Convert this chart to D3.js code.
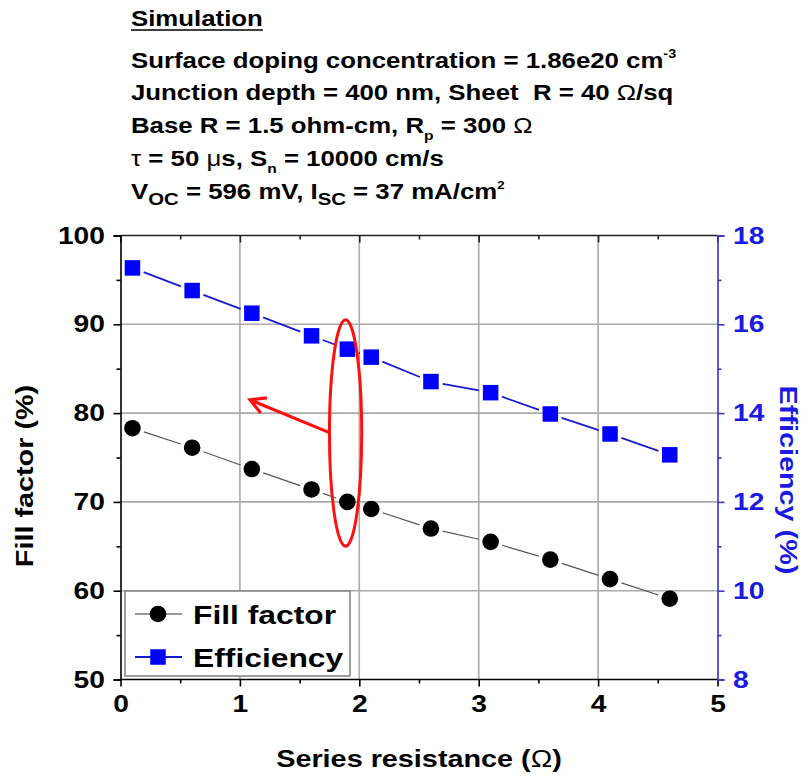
<!DOCTYPE html>
<html><head><meta charset="utf-8">
<script src="https://cdn.jsdelivr.net/npm/d3@7"></script>
<style>html,body{margin:0;padding:0;background:#fff;}</style>
</head><body>
<svg id="chart" width="807" height="776"></svg>
<script>
// ---- data ----
const resistance = [0.1, 0.6, 1.1, 1.6, 1.9, 2.1, 2.6, 3.1, 3.6, 4.1, 4.6];
const fillFactor = [78.3, 76.1, 73.7, 71.4, 70.0, 69.2, 67.0, 65.5, 63.5, 61.3, 59.1];
const efficiency = [17.27, 16.76, 16.25, 15.74, 15.44, 15.26, 14.71, 14.46, 13.98, 13.53, 13.06];
const xTicks = [0, 1, 2, 3, 4, 5];
const xMinor = [0.5, 1.5, 2.5, 3.5, 4.5];
const ffTicks = [50, 60, 70, 80, 90, 100];
const ffMinor = [55, 65, 75, 85, 95];
const effTicks = [8, 10, 12, 14, 16, 18];
const effMinor = [9, 11, 13, 15, 17];
const seriesNames = ["Fill factor", "Efficiency"];
// annotation (data units): ellipse around R=1.9 and arrow pointing to left axis
const ellipseX = [1.75, 2.02];
const ellipseY = [65.0, 90.5];
const arrowFrom = [1.75, 77.8];
const arrowTo = [1.085, 81.5];

const FONT = "'Liberation Sans', Arial, Helvetica, sans-serif";
const SX = 1.2;
const BLUE = "#0000ff";
const BLUE_TXT = "#1a1ae0";
const BLUE_AX = "#3535c8";

const svg = d3.select("#chart").style("font-family", FONT);

const x = d3.scaleLinear().domain([0, 5]).range([120.5, 717.5]);
const yL = d3.scaleLinear().domain([50, 100]).range([679.5, 235.5]);
const yR = d3.scaleLinear().domain([8, 18]).range([679.5, 235.5]);
const pLeft = x.range()[0], pRight = x.range()[1], pTop = yL.range()[1], pBottom = yL.range()[0];

// ---- title block ----
function stretched(px, py, size, anchor) {
  const g = svg.append("g").attr("transform", `translate(${px},${py}) scale(${SX},1)`);
  return g.append("text").attr("font-size", size).attr("font-weight", "bold")
    .attr("text-anchor", anchor || "start").attr("fill", "#000");
}
const TX = 131, TS = 21.5;
const t0 = stretched(TX, 26, TS).text("Simulation");
svg.append("line").attr("x1", TX).attr("x2", TX + t0.node().getComputedTextLength() * SX)
  .attr("y1", 30).attr("y2", 30).attr("stroke", "#000").attr("stroke-width", 1.6);

let t = stretched(TX, 68, TS);
t.append("tspan").text("Surface doping concentration = 1.86e20 cm");
t.append("tspan").attr("font-size", 12).attr("dy", -10).text("-3");

t = stretched(TX, 100, TS);
t.append("tspan").text("Junction depth = 400 nm, Sheet\u00a0 R = 40 ");
t.append("tspan").attr("font-weight", "normal").text("\u03A9");
t.append("tspan").text("/sq");

t = stretched(TX, 133, TS);
t.append("tspan").text("Base R = 1.5 ohm-cm, R");
t.append("tspan").attr("font-size", 13).attr("dy", 7).text("p");
t.append("tspan").attr("dy", -7).text(" = 300 ");
t.append("tspan").attr("font-weight", "normal").text("\u03A9");

t = stretched(TX, 166, TS);
t.append("tspan").attr("font-weight", "normal").text("\u03C4");
t.append("tspan").text(" = 50 ");
t.append("tspan").attr("font-weight", "normal").text("\u03BC");
t.append("tspan").text("s, S");
t.append("tspan").attr("font-size", 13).attr("dy", 7).text("n");
t.append("tspan").attr("dy", -7).text(" = 10000 cm/s");

t = stretched(TX, 199, TS);
t.append("tspan").text("V");
t.append("tspan").attr("font-size", 17).attr("dy", 6).text("OC");
t.append("tspan").attr("dy", -6).text(" = 596 mV, I");
t.append("tspan").attr("font-size", 17).attr("dy", 6).text("SC");
t.append("tspan").attr("dy", -6).text(" = 37 mA/cm");
t.append("tspan").attr("font-size", 11).attr("dy", -10).text("2");

// ---- grid ----
const grid = svg.append("g").attr("stroke", "#aaaaaa").attr("stroke-width", 1.6);
grid.selectAll("line.gx").data(xTicks.slice(1, -1)).join("line")
  .attr("x1", d => x(d)).attr("x2", d => x(d)).attr("y1", pTop).attr("y2", pBottom);
grid.selectAll("line.gy").data(ffTicks.slice(1, -1)).join("line")
  .attr("x1", pLeft).attr("x2", pRight).attr("y1", d => yL(d)).attr("y2", d => yL(d));

// ---- axes ----
function styleAxis(g, color) {
  g.selectAll(".domain").attr("stroke", color).attr("stroke-width", 1.6);
  g.selectAll(".tick line").attr("stroke", color).attr("stroke-width", 1.6);
}
// bottom
const gB = svg.append("g").attr("transform", `translate(0,${pBottom})`)
  .call(d3.axisBottom(x).tickValues(xTicks).tickSize(7).tickPadding(9).tickFormat(d3.format("d")));
gB.selectAll(".domain").remove();
styleAxis(gB, "#000");
gB.selectAll("text").attr("font-size", 23.5).attr("font-weight", "bold").attr("fill", "#000")
  .attr("font-family", FONT).attr("transform", `scale(${SX},1)`);
const gBm = svg.append("g").attr("transform", `translate(0,${pBottom})`)
  .call(d3.axisBottom(x).tickValues(xMinor).tickSize(4).tickFormat(""));
gBm.selectAll(".domain").remove(); styleAxis(gBm, "#000");
// top
const gT = svg.append("g").attr("transform", `translate(0,${pTop})`)
  .call(d3.axisBottom(x).tickValues(xTicks).tickSize(7).tickFormat(""));
gT.selectAll(".domain").remove(); styleAxis(gT, "#222");
const gTm = svg.append("g").attr("transform", `translate(0,${pTop})`)
  .call(d3.axisBottom(x).tickValues(xMinor).tickSize(4).tickFormat(""));
gTm.selectAll(".domain").remove(); styleAxis(gTm, "#222");
svg.append("line").attr("x1", pLeft).attr("x2", pRight).attr("y1", pTop).attr("y2", pTop)
  .attr("stroke", "#222").attr("stroke-width", 1.6);
svg.append("line").attr("x1", pLeft).attr("x2", pRight).attr("y1", pBottom).attr("y2", pBottom)
  .attr("stroke", "#000").attr("stroke-width", 1.6);
// left
const gL = svg.append("g").attr("transform", `translate(${pLeft},0)`)
  .call(d3.axisLeft(yL).tickValues(ffTicks).tickSize(7).tickPadding(6).tickFormat(d3.format("d")));
styleAxis(gL, "#000");
gL.selectAll("text").attr("font-size", 23.5).attr("font-weight", "bold").attr("fill", "#000")
  .attr("font-family", FONT).attr("transform", `scale(${SX},1)`);
const gLm = svg.append("g").attr("transform", `translate(${pLeft},0)`)
  .call(d3.axisLeft(yL).tickValues(ffMinor).tickSize(4).tickFormat(""));
gLm.selectAll(".domain").remove(); styleAxis(gLm, "#000");
// right
const gR = svg.append("g").attr("transform", `translate(${pRight},0)`)
  .call(d3.axisRight(yR).tickValues(effTicks).tickSize(7).tickPadding(6).tickFormat(d3.format("d")));
styleAxis(gR, BLUE_AX);
gR.selectAll("text").attr("font-size", 23.5).attr("font-weight", "bold").attr("fill", BLUE_TXT)
  .attr("font-family", FONT).attr("transform", `scale(${SX},1)`);
const gRm = svg.append("g").attr("transform", `translate(${pRight},0)`)
  .call(d3.axisRight(yR).tickValues(effMinor).tickSize(4).tickFormat(""));
gRm.selectAll(".domain").remove(); styleAxis(gRm, BLUE_AX);

// axis titles
let xt = svg.append("g").attr("transform", `translate(${(pLeft + pRight) / 2},767) scale(${SX},1)`)
  .append("text").attr("text-anchor", "middle").attr("font-size", 24).attr("font-weight", "bold");
xt.append("tspan").text("Series resistance (");
xt.append("tspan").attr("font-weight", "normal").text("\u03A9");
xt.append("tspan").text(")");

svg.append("g").attr("transform", `translate(33,476) rotate(-90) scale(${SX},1)`)
  .append("text").attr("text-anchor", "middle").attr("font-size", 24).attr("font-weight", "bold")
  .text("Fill factor (%)");
svg.append("g").attr("transform", `translate(780,480) rotate(90) scale(${SX},1)`)
  .append("text").attr("text-anchor", "middle").attr("font-size", 24).attr("font-weight", "bold")
  .attr("fill", BLUE_TXT).text("Efficiency (%)");

// ---- series ----
function gappedSegments(pts, gap) {
  const segs = [];
  for (let i = 0; i < pts.length - 1; i++) {
    const [x0, y0] = pts[i], [x1, y1] = pts[i + 1];
    const dx = x1 - x0, dy = y1 - y0, d = Math.hypot(dx, dy);
    if (d > 2 * gap) {
      const ux = dx / d, uy = dy / d;
      segs.push([x0 + ux * gap, y0 + uy * gap, x1 - ux * gap, y1 - uy * gap]);
    }
  }
  return segs;
}
const ffPts = resistance.map((r, i) => [x(r), yL(fillFactor[i])]);
const effPts = resistance.map((r, i) => [x(r), yR(efficiency[i])]);

svg.append("g").selectAll("line").data(gappedSegments(ffPts, 12)).join("line")
  .attr("x1", d => d[0]).attr("y1", d => d[1]).attr("x2", d => d[2]).attr("y2", d => d[3])
  .attr("stroke", "#555").attr("stroke-width", 1.2);
svg.append("g").selectAll("line").data(gappedSegments(effPts, 12)).join("line")
  .attr("x1", d => d[0]).attr("y1", d => d[1]).attr("x2", d => d[2]).attr("y2", d => d[3])
  .attr("stroke", "#1a1acc").attr("stroke-width", 1.8);

svg.append("g").selectAll("circle").data(ffPts).join("circle")
  .attr("cx", d => d[0]).attr("cy", d => d[1]).attr("r", 8.3).attr("fill", "#000");
const SQ = 15.5;
svg.append("g").selectAll("rect").data(effPts).join("rect")
  .attr("x", d => d[0] - SQ / 2).attr("y", d => d[1] - SQ / 2).attr("width", SQ).attr("height", SQ)
  .attr("fill", BLUE);

// ---- annotation ----
const ecx = (x(ellipseX[0]) + x(ellipseX[1])) / 2, ecy = (yL(ellipseY[0]) + yL(ellipseY[1])) / 2;
svg.append("ellipse").attr("cx", ecx).attr("cy", ecy)
  .attr("rx", (x(ellipseX[1]) - x(ellipseX[0])) / 2).attr("ry", (yL(ellipseY[0]) - yL(ellipseY[1])) / 2)
  .attr("fill", "none").attr("stroke", "#ff1010").attr("stroke-width", 3);
const ax0 = x(arrowFrom[0]), ay0 = yL(arrowFrom[1]), ax1 = x(arrowTo[0]), ay1 = yL(arrowTo[1]);
const ang = Math.atan2(ay0 - ay1, ax0 - ax1), hl = 17, ha = 0.5;
svg.append("path")
  .attr("d", `M${ax0},${ay0}L${ax1},${ay1}M${ax1 + hl * Math.cos(ang - ha)},${ay1 + hl * Math.sin(ang - ha)}L${ax1},${ay1}L${ax1 + hl * Math.cos(ang + ha)},${ay1 + hl * Math.sin(ang + ha)}`)
  .attr("fill", "none").attr("stroke", "#ff1010").attr("stroke-width", 3.2).attr("stroke-linejoin", "miter");

// ---- legend ----
const lg = svg.append("g");
lg.append("rect").attr("x", 125).attr("y", 591).attr("width", 225).attr("height", 85)
  .attr("fill", "#fff").attr("stroke", "#888").attr("stroke-width", 1.6);
const rows = [614, 657];
seriesNames.forEach((name, i) => {
  const yy = rows[i];
  lg.append("line").attr("x1", 135).attr("x2", 182).attr("y1", yy).attr("y2", yy)
    .attr("stroke", i === 0 ? "#777" : "#1a1acc").attr("stroke-width", i === 0 ? 1.5 : 1.8);
  if (i === 0) lg.append("circle").attr("cx", 158).attr("cy", yy).attr("r", 8.3).attr("fill", "#000");
  else lg.append("rect").attr("x", 158 - SQ / 2).attr("y", yy - SQ / 2).attr("width", SQ).attr("height", SQ).attr("fill", BLUE);
  lg.append("g").attr("transform", `translate(193,${yy + 9.5}) scale(${SX},1)`)
    .append("text").attr("font-size", 26.5).attr("font-weight", "bold").text(name);
});
</script>
</body></html>
